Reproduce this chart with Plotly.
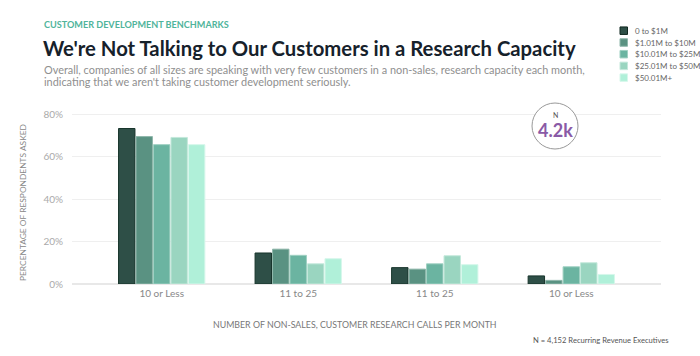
import plotly.graph_objects as go

categories = ["10 or Less", "11 to 25", "11 to 25 ", "10 or Less "]
tick_labels = ["10 or Less", "11 to 25", "11 to 25", "10 or Less"]
series_names = ["0 to $1M", "$1.01M to $10M", "$10.01M to $25M", "$25.01M to $50M", "$50.01M+"]
s_0_1 = [73.2, 14.6, 7.7, 3.8]
s_1_10 = [69.4, 16.4, 7.0, 1.7]
s_10_25 = [65.6, 13.5, 9.5, 8.1]
s_25_50 = [69.0, 9.5, 13.3, 10.0]
s_50p = [65.6, 11.9, 9.1, 4.5]
series_values = [s_0_1, s_1_10, s_10_25, s_25_50, s_50p]
y_ticks = [0, 20, 40, 60, 80]
y_tick_labels = ["0%", "20%", "40%", "60%", "80%"]

colors = ["#2e4f47", "#5a9282", "#6bb4a1", "#9ad5c0", "#b0f0d9"]
edges = ["#18352c", "#8fb7ab", "#9fd0c2", "#c4e8db", "#d6f7eb"]

FONT = "Lato"
PL, PR, PT, PB = 72, 661, 113, 284
PW, PH = PR - PL, PB - PT


def px(x):
    return (x - PL) / PW


def py(y):
    return (PB - y) / PH


fig = go.Figure()
for name, vals, c, e in zip(series_names, series_values, colors, edges):
    fig.add_trace(go.Bar(
        x=categories, y=vals, name=name,
        marker=dict(color=c, line=dict(color=e, width=1)),
    ))

fig.update_layout(
    width=700, height=356,
    margin=dict(l=PL, r=700 - PR, t=PT, b=356 - PB, autoexpand=False),
    paper_bgcolor="white", plot_bgcolor="white",
    barmode="group", bargap=0.36, bargroupgap=0.06,
    font=dict(family=FONT, color="#888"),
    showlegend=False,
    xaxis=dict(
        tickmode="array", tickvals=categories, ticktext=tick_labels,
        range=[-0.657, 3.657], showgrid=False, zeroline=False,
        tickfont=dict(size=10, color="#888"), showline=False, ticklabelstandoff=2,
    ),
    yaxis=dict(
        range=[0, 80.5], tickvals=y_ticks, ticktext=y_tick_labels,
        showgrid=True, gridcolor="#efefef", gridwidth=1, zeroline=True, zerolinecolor="#e8e8e8",
        tickfont=dict(size=10, color="#aaa"), ticks="", ticklen=0, ticklabelstandoff=8,
    ),
)


def note(text, x, y, size, color, xanchor="left", yanchor="middle", weight=None, **kw):
    f = dict(size=size, color=color, family=FONT)
    if weight:
        f["weight"] = weight
    fig.add_annotation(text=text, xref="paper", yref="paper", x=px(x), y=py(y),
                       xanchor=xanchor, yanchor=yanchor, showarrow=False,
                       font=f, **kw)


note("<b>CUSTOMER DEVELOPMENT BENCHMARKS</b>", 42, 24, 9.1, "#4fb49b")
note("<b>We're Not Talking to Our Customers in a Research Capacity</b>", 41, 48, 20.3, "#16212b")
note("Overall, companies of all sizes are speaking with very few customers in a non-sales, research capacity each month,",
     42, 69, 10.9, "#8f8f8f")
note("indicating that we aren't taking customer development seriously.", 42, 81, 10.9, "#8f8f8f")
note("N = 4,152 Recurring Revenue Executives", 671, 340, 7.6, "#555", xanchor="right")
note("NUMBER OF NON-SALES, CUSTOMER RESEARCH CALLS PER MONTH", 355, 324, 8.8, "#777", xanchor="center")
note("PERCENTAGE OF RESPONDENTS ASKED", 23, 203, 8.4, "#888", xanchor="center", textangle=-90)

# manual legend
leg_y = [30.7, 42.5, 54.2, 65.9, 77.6]
for name, c, e, ly in zip(series_names, colors, edges, leg_y):
    fig.add_shape(type="rect", xref="paper", yref="paper",
                  x0=px(620), x1=px(627.5), y0=py(ly + 3.75), y1=py(ly - 3.75),
                  fillcolor=c, line=dict(color=e if c != colors[0] else "#102820", width=1))
    note(name, 633, ly, 8, "#666")

# N circle
cx, cy, r = 555, 126, 23
fig.add_shape(type="circle", xref="paper", yref="paper",
              x0=px(cx - r), x1=px(cx + r), y0=py(cy + r), y1=py(cy - r),
              line=dict(color="#999", width=1), fillcolor="white", layer="above")
note("N", cx, 115, 7, "#555", xanchor="center")
note("<b>4.2k</b>", cx, 130, 18, "#8a5aa6", xanchor="center")

fig.write_html("out.html", config={"displayModeBar": False},
               post_script="document.body.style.margin='0';document.body.style.overflow='hidden';")
